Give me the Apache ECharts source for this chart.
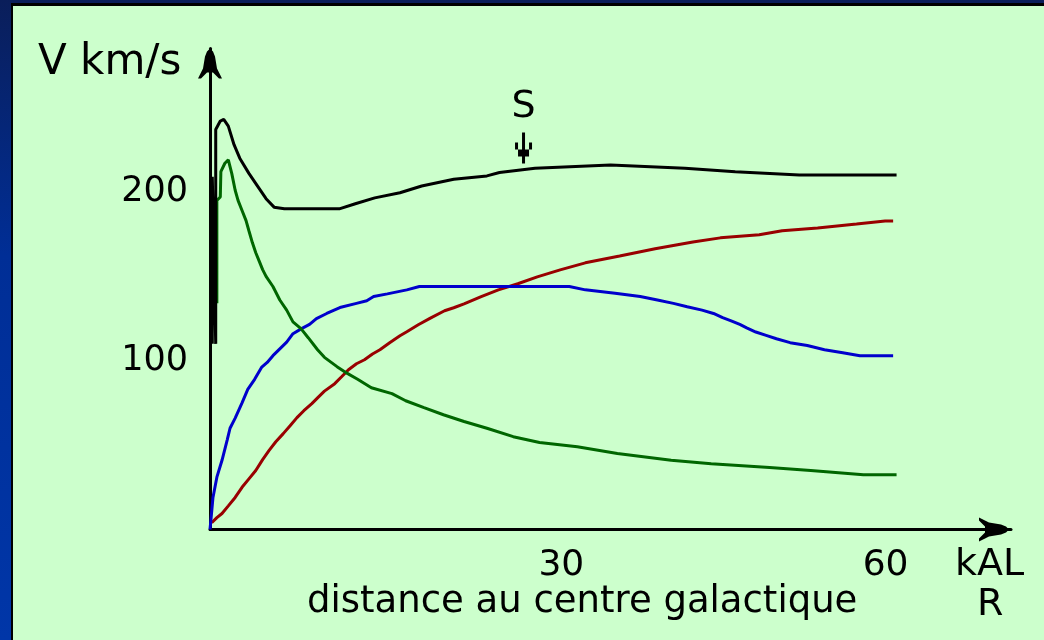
<!DOCTYPE html>
<html>
<head>
<meta charset="utf-8">
<script src="https://cdn.jsdelivr.net/npm/echarts@6/dist/echarts.min.js"></script>
<style>
  html, body { margin: 0; padding: 0; width: 1044px; height: 640px; overflow: hidden; }
  body { background: linear-gradient(to bottom, #0a1e5a 0%, #002e96 40%, #0036a8 100%); position: relative; }
  #panel { position: absolute; left: 11px; top: 3px; right: 0; bottom: 0; background: #ccffcc; border-left: 2px solid #000; border-top: 3px solid #000; }
  #chart { position: absolute; left: 0; top: 0; width: 1044px; height: 640px; }
</style>
</head>
<body>
<div id="panel"></div>
<div id="chart"></div>
<script>
// rotation curve of the galaxy: V (km/s) vs R (kAL)
const totalCurve = [[0.2,110],[0.2,209],[0.5,110],[0.5,237],[0.9,242],[1.2,243],[1.6,239],[2.1,228],[2.6,220],[3.4,211],[4.2,203],[4.9,196],[5.6,191],[6.5,190],[9,190],[11.3,190],[12.7,193],[14.4,196.5],[16.6,199.5],[18.5,203.5],[21.3,207.5],[24.2,209.5],[25.3,211.5],[28.4,214],[35,216],[41.5,214],[45.9,212],[51.5,210],[60,210]];
const bulgeCurve = [[0.6,134],[0.6,195],[0.9,197],[0.95,212],[1.3,217],[1.6,219],[1.9,211],[2.2,201],[2.45,195],[2.8,189],[3.15,183],[3.4,177],[3.7,170],[4.0,164],[4.3,159],[4.6,154],[4.9,150],[5.5,144],[6.1,136],[6.7,130],[7.25,123],[7.95,119],[8.6,113.5],[9.4,106.5],[10,102],[11.1,96.5],[12,92.5],[12.9,89],[14.1,84],[15.9,80.5],[17.1,76.3],[18.7,72.2],[20.4,68],[22.2,64],[24.2,60],[26.5,55],[28.8,51.5],[32.1,49],[35.6,45],[40.3,41],[43.8,39],[48.9,36.7],[52.5,35],[57.1,32.5],[60,32.5]];
const diskCurve = [[0,0],[0.1,7],[0.26,19],[0.6,31],[1.05,41],[1.5,53],[1.75,60],[2.2,66],[2.8,75],[3.3,83],[3.9,89],[4.5,96],[5,99],[5.5,103],[6.1,107],[6.7,111],[7.25,116],[8,119],[8.7,121.5],[9.3,125],[10.2,128],[11.35,131.5],[12.8,134],[13.7,135.5],[14.3,138],[15.5,139.6],[17.2,142],[18.3,144],[31.4,144],[32.8,142],[35.4,140],[37.6,138],[39.1,136],[40.5,134],[41.7,132],[43,130],[44,128],[44.8,125.5],[45.6,123.5],[46.3,121.5],[46.9,119.5],[47.7,117],[48.6,115],[49.5,113],[50.7,110.7],[52.2,109],[53.7,106.5],[55.3,104.7],[56.8,103],[59.7,103]];
const haloCurve = [[0.15,4],[0.26,4],[0.6,7],[1.05,9.5],[1.6,14],[2.2,19],[2.8,25],[3.4,30],[4,35],[4.6,41.4],[5.15,46.7],[5.75,52],[6.4,56.8],[7,61.5],[7.6,66.3],[8.2,70.4],[8.9,74.6],[9.4,78],[10,82],[10.9,86.4],[11.5,90.5],[12.1,94.7],[12.8,98.2],[13.5,100.6],[14.2,104],[14.85,106.5],[15.7,110.7],[16.6,114.8],[17.2,117.2],[18.2,121.3],[19.3,125.4],[20.5,129.6],[21.3,131.4],[22.2,133.7],[23.7,138],[25.2,142],[26.9,145.6],[28.6,149.7],[30.6,153.8],[32.8,158],[35.8,162],[38.9,166.3],[42.2,170.4],[44.6,172.8],[48,174.6],[50,177],[53.1,178.7],[56.5,181],[59,182.8],[59.7,182.8]];
const xTicks = [30, 60];
const yTicks = [100, 200];
const sunPoint = [27.4, 213];

const FONT = "'DejaVu Sans', sans-serif";
const arrowUp = 'path://M12,0 L15,3 L17,8 L19,20 L24,30 L21,30 L15,24 L9,24 L3,30 L0,30 L5,20 L7,8 L9,3 Z';
const markArrow = 'path://M7,0H10V31H7Z M3,17H14V24H3Z M0,10H3V17H0Z M14,10H17V17H14Z';

function line(data, color, extra) {
  return Object.assign({
    type: 'line',
    data: data,
    showSymbol: false,
    symbol: 'none',
    silent: true,
    lineStyle: { color: color, width: 3, cap: 'butt', join: 'bevel' },
    z: 3
  }, extra || {});
}

const chart = echarts.init(document.getElementById('chart'));
chart.setOption({
  animation: false,
  backgroundColor: 'transparent',
  grid: { left: 210, right: 33, top: 48.5, bottom: 110.5 },
  xAxis: {
    type: 'value', min: 0, max: 70, interval: 10,
    splitLine: { show: false },
    axisTick: { show: false },
    axisLine: { lineStyle: { color: '#000', width: 3 }, symbol: ['none', arrowUp], symbolSize: [24, 34], symbolOffset: [0, -17] },
    axisLabel: {
      margin: 18, color: '#000', fontFamily: FONT, fontSize: 36,
      formatter: v => v === xTicks[0] ? '{a|' + v + '}' : (v === xTicks[1] ? '{b|' + v + '}' : ''),
      rich: {
        a: { fontFamily: FONT, fontSize: 36, color: '#000', padding: [0, 0, 0, 16] },
        b: { fontFamily: FONT, fontSize: 36, color: '#000', padding: [0, 22, 0, 0] }
      }
    }
  },
  yAxis: {
    type: 'value', min: 0, max: 285, interval: 100,
    splitLine: { show: false },
    axisTick: { show: false },
    axisLine: { lineStyle: { color: '#000', width: 3 }, symbol: ['none', arrowUp], symbolSize: [24, 30], symbolOffset: [0, -15] },
    axisLabel: {
      margin: 22, color: '#000', fontFamily: FONT, fontSize: 35,
      formatter: v => yTicks.indexOf(v) >= 0 ? String(v) : ''
    }
  },
  graphic: [
    { type: 'text', left: 38, top: 42, style: { text: 'V km/s', fill: '#000', font: "42px 'DejaVu Sans', sans-serif" } },
    { type: 'text', left: 955, top: 546, style: { text: 'kAL', fill: '#000', font: "38px 'DejaVu Sans', sans-serif" } },
    { type: 'text', left: 977, top: 586, style: { text: 'R', fill: '#000', font: "38px 'DejaVu Sans', sans-serif" } },
    { type: 'text', left: 307, top: 584, style: { text: 'distance au centre galactique', fill: '#000', font: "37px 'DejaVu Sans', sans-serif" } }
  ],
  series: [
    line(haloCurve, '#990000'),
    line(diskCurve, '#0000cc'),
    line(bulgeCurve, '#006600'),
    line(totalCurve, '#000000', {
      markPoint: {
        silent: true,
        symbol: markArrow,
        symbolSize: [17, 31],
        symbolOffset: [0, -22],
        itemStyle: { color: '#000' },
        label: { show: true, position: 'top', distance: 6, formatter: 'S', color: '#000', fontFamily: FONT, fontSize: 38 },
        data: [{ coord: sunPoint }]
      }
    })
  ]
});
</script>
</body>
</html>
